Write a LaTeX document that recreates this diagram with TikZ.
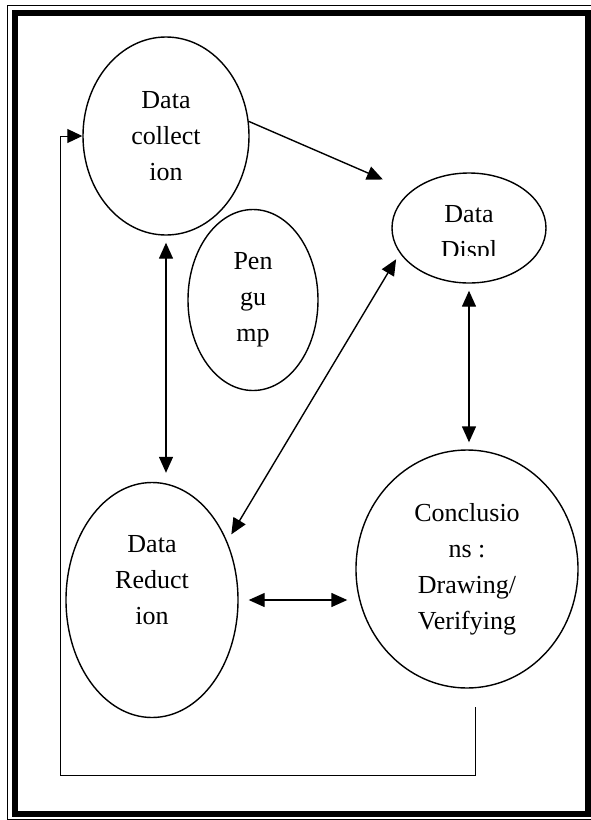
\documentclass[tikz,border=0pt]{standalone}
\usepackage{fontspec}
\setmainfont{Liberation Serif}
\usetikzlibrary{shapes.geometric,arrows.meta}

\begin{document}
\begin{tikzpicture}[x=1pt,y=-1pt,
		bubble/.style={draw,ellipse,line width=1.4pt,inner sep=0pt,align=center,font=\fontsize{26}{36}\selectfont},
		txt/.style={align=center,font=\fontsize{26}{36}\selectfont},
		both/.style={line width=1.4pt,{Triangle[length=16pt,width=14pt]}-{Triangle[length=16pt,width=14pt]}},
		one/.style={line width=1.4pt,-{Triangle[length=16pt,width=14pt]}},
		back/.style={line width=1pt,-{Triangle[length=15pt,width=14pt]}}]
			\useasboundingbox (0,0) rectangle (590,820);
			\draw[line width=1pt] (7.5,5.5) rectangle (640,819);
			\draw[line width=6pt] (15,13) rectangle (588,814);
			\node[bubble,minimum width=166pt,minimum height=198pt] (col) at (166,136) {Data\\collect\\ion};
			\node[bubble,minimum width=154pt,minimum height=110pt] (dis) at (469,228) {};
			\begin{scope}
				\clip (390,180) rectangle (550,255);
				\node[txt] (distxt) at (469,235) {Data\\Displ};
			\end{scope}
			\node[bubble,minimum width=130pt,minimum height=181pt] (pen) at (253,300) {Pen\\gu\\mp};
			\node[bubble,minimum width=172pt,minimum height=235pt] (red) at (152,600) {};
			\node[txt] (redtxt) at (152,580) {Data\\Reduct\\ion};
			\node[bubble,minimum width=222pt,minimum height=238pt] (con) at (467,569) {Conclusio\\ns :\\Drawing/\\Verifying};
			\draw[one,shorten >=30pt] (col.10) -- (dis.148);
			\draw[both,shorten <=7pt,shorten >=9pt] (col.south) -- (col.south |- red.north);
			\draw[both,shorten <=8pt,shorten >=7pt] (red.38) -- (dis.200);
			\draw[both,shorten <=7pt,shorten >=7pt] (dis.south) -- (dis.south |- con.north);
			\draw[both,shorten <=10pt,shorten >=8pt] (red.east) -- (red.east -| con.west);
			\coordinate (fbs) at (475,707);
			\coordinate (fbc) at (60,775);
			\draw[back] (fbs) |- (fbc) |- (col.west);
		\end{tikzpicture}
\end{document}
